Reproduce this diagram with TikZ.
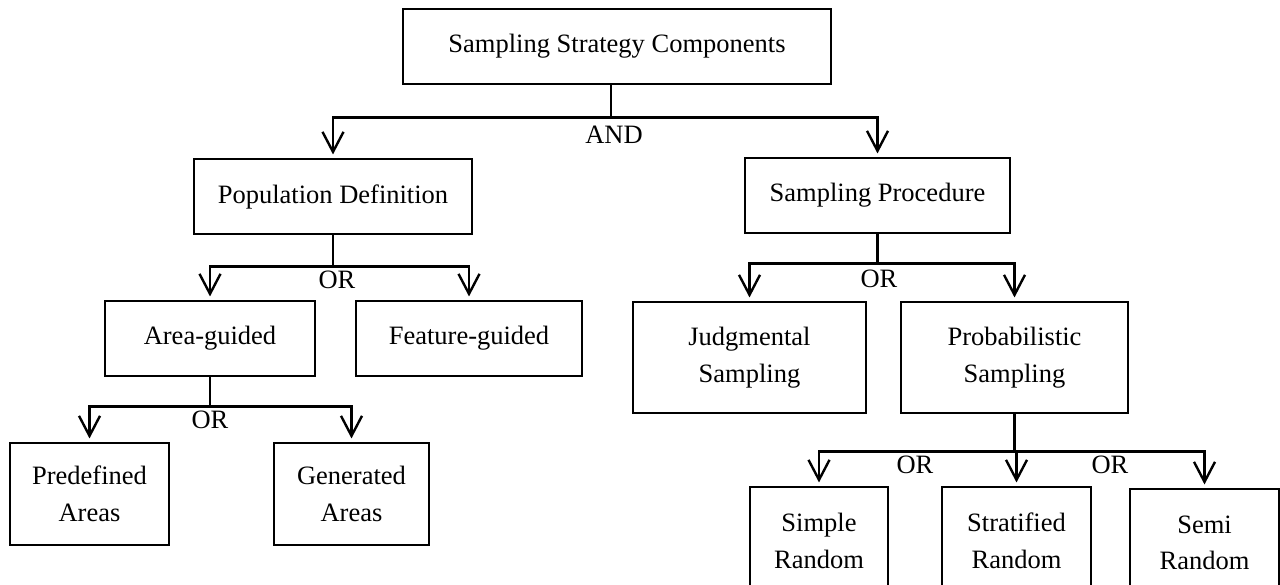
\documentclass[tikz,border=0pt]{standalone}
\usepackage{fontspec}
\setmainfont{Liberation Serif}
\usetikzlibrary{arrows.meta}
\begin{document}
\begin{tikzpicture}[x=1pt,y=-1pt,
  box/.style={draw, line width=1.1pt, align=center, inner sep=0pt,
    font=\fontsize{26.5}{36.5}\selectfont},
  conn/.style={line width=2.4pt},
  arr/.style={line width=2.4pt, -{Straight Barb[length=20pt,width=21pt]}, shorten >=4pt},
  lbl/.style={font=\fontsize{26.5}{32}\selectfont, inner sep=0pt}]
\useasboundingbox (0,0) rectangle (1280,585);

% level 0
\node[box, minimum width=428pt, minimum height=75pt] (root) at (617,46.5) {Sampling Strategy Components};
% level 1
\node[box, minimum width=278pt, minimum height=75pt] (pop) at (333,196.5) {Population Definition};
\node[box, minimum width=265pt, minimum height=75pt] (proc) at (877.5,195.5) {Sampling Procedure};
% level 2
\node[box, minimum width=210pt, minimum height=75pt] (area) at (210,338.5) {Area-guided};
\node[box, minimum width=226pt, minimum height=75pt] (feat) at (469,338.5) {Feature-guided};
\node[box, minimum width=233pt, minimum height=111pt] (judg) at (749.5,357.5) {Judgmental\\Sampling};
\node[box, minimum width=227pt, minimum height=111pt] (prob) at (1014.5,357.5) {Probabilistic\\Sampling};
% level 3
\node[box, minimum width=159pt, minimum height=102pt] (pred) at (89.5,494) {Predefined\\Areas};
\node[box, minimum width=155pt, minimum height=102pt] (gen) at (351.5,494) {Generated\\Areas};
\node[box, minimum width=138pt, minimum height=108pt] (simp) at (819,541) {Simple\\Random};
\node[box, minimum width=149pt, minimum height=108pt] (strat) at (1016.5,541) {Stratified\\Random};
\node[box, minimum width=149pt, minimum height=108pt] (semi) at (1204.5,543) {Semi\\Random};

% connectors
\draw[conn] ([xshift=-6pt]root.south) -- ++(0,33) coordinate (j0);
\draw[arr] (j0) -| (pop.north);
\draw[arr] (j0) -| (proc.north);

\draw[conn] (pop.south) -- ++(0,32) coordinate (j1);
\draw[arr] (j1) -| (area.north);
\draw[arr] (j1) -| (feat.north);

\draw[conn] (proc.south) -- ++(0,30) coordinate (j2);
\draw[arr] (j2) -| (judg.north);
\draw[arr] (j2) -| (prob.north);

\draw[conn] (area.south) -- ++(0,30) coordinate (j3);
\draw[arr] (j3) -| (pred.north);
\draw[arr] (j3) -| (gen.north);

\draw[conn] (prob.south) -- ++(0,38) coordinate (j4);
\draw[arr] (j4) -| (simp.north);
\draw[arr] (j4) -- (strat.north |- j4) -- (strat.north);
\draw[arr] (j4) -| (semi.north);

% labels
\node[lbl] (l0) at (614,135) {AND};
\node[lbl] (l1) at (337,280) {OR};
\node[lbl] (l2) at (879,279) {OR};
\node[lbl] (l3) at (210,420) {OR};
\node[lbl] (l4) at (915,465) {OR};
\node[lbl] (l5) at (1110,465) {OR};
\end{tikzpicture}
\end{document}
